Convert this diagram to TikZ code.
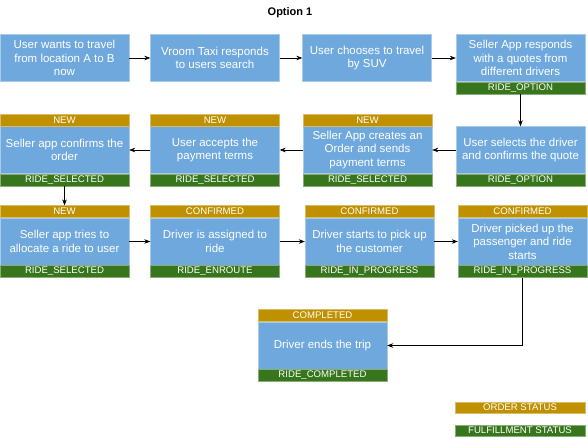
\documentclass[tikz,border=0pt]{standalone}
\usepackage{fontspec}
\setmainfont{Liberation Sans}
\usepackage{tikz}
\usetikzlibrary{arrows.meta}
\usetikzlibrary{positioning}

\definecolor{taskblue}{HTML}{6FA8DC}
\definecolor{ordergold}{HTML}{BF9000}
\definecolor{fulfilgreen}{HTML}{38761D}

\tikzset{
  task/.style={fill=taskblue, draw=taskblue!60!white, line width=0.4pt, text=white,
    minimum width=129pt, minimum height=47pt, inner sep=0pt, align=center,
    font=\fontsize{11.5}{13.5}\selectfont},
  orderbar/.style={fill=ordergold, draw=ordergold!60!white, line width=0.4pt, text=white,
    minimum width=129pt, minimum height=12pt, inner sep=0pt,
    font=\fontsize{9.6}{10}\selectfont},
  fulfilbar/.style={orderbar, fill=fulfilgreen, draw=fulfilgreen!60!white},
  flow/.style={-{Stealth[length=6pt,width=4.5pt]}, line width=0.6pt}
}

\begin{document}
\begin{tikzpicture}[x=1pt, y=-1pt]
  \useasboundingbox (0,0) rectangle (588,437);
  \node[font=\bfseries\fontsize{11}{13}\selectfont] (title) at (290,13) {Option 1};

  % Zeile 1
  \node[task] (r1a) at (64.5,58) {User wants to travel\\from location A to B\\now};
  \node[task] (r1b) at (215,58) {Vroom Taxi responds\\to users search};
  \node[task] (r1c) at (367,58) {User chooses to travel\\by SUV};
  \node[task] (r1d) at (520.5,58) {Seller App responds\\with a quotes from\\different drivers};
  \node[fulfilbar, below=0pt of r1d] (r1dst) {RIDE\_OPTION};

  % Zeile 2
  \node[task] (r2d) at (520.5,150) {User selects the driver\\and confirms the quote};
  \node[fulfilbar, below=0pt of r2d] (r2dst) {RIDE\_OPTION};
  \node[task] (r2c) at (367.5,150) {Seller App creates an\\Order and sends\\payment terms};
  \node[orderbar, above=0pt of r2c] (r2cord) {NEW};
  \node[fulfilbar, below=0pt of r2c] (r2cst) {RIDE\_SELECTED};
  \node[task] (r2b) at (215,150) {User accepts the\\payment terms};
  \node[orderbar, above=0pt of r2b] (r2bord) {NEW};
  \node[fulfilbar, below=0pt of r2b] (r2bst) {RIDE\_SELECTED};
  \node[task] (r2a) at (64.5,150) {Seller app confirms the\\order};
  \node[orderbar, above=0pt of r2a] (r2aord) {NEW};
  \node[fulfilbar, below=0pt of r2a] (r2ast) {RIDE\_SELECTED};

  % Zeile 3
  \node[task] (r3a) at (64.5,241.5) {Seller app tries to\\allocate a ride to user};
  \node[orderbar, above=0pt of r3a] (r3aord) {NEW};
  \node[fulfilbar, below=0pt of r3a] (r3ast) {RIDE\_SELECTED};
  \node[task] (r3b) at (215,241.5) {Driver is assigned to\\ride};
  \node[orderbar, above=0pt of r3b] (r3bord) {CONFIRMED};
  \node[fulfilbar, below=0pt of r3b] (r3bst) {RIDE\_ENROUTE};
  \node[task] (r3c) at (369.5,241.5) {Driver starts to pick up\\the customer};
  \node[orderbar, above=0pt of r3c] (r3cord) {CONFIRMED};
  \node[fulfilbar, below=0pt of r3c] (r3cst) {RIDE\_IN\_PROGRESS};
  \node[task] (r3d) at (522.5,241.5) {Driver picked up the\\passenger and ride\\starts};
  \node[orderbar, above=0pt of r3d] (r3dord) {CONFIRMED};
  \node[fulfilbar, below=0pt of r3d] (r3dst) {RIDE\_IN\_PROGRESS};

  % Zeile 4
  \node[task] (r4) at (322.5,345.5) {Driver ends the trip};
  \node[orderbar, above=0pt of r4] (r4ord) {COMPLETED};
  \node[fulfilbar, below=0pt of r4] (r4st) {RIDE\_COMPLETED};

  % Legende
  \node[orderbar, minimum width=130pt, minimum height=11pt] (legorder) at (520,407.5) {ORDER STATUS};
  \node[fulfilbar, minimum width=130pt, minimum height=11pt] (legfulfil) at (520,430.5) {FULFILLMENT STATUS};

  % Pfeile
  \draw[flow] (r1a) -- (r1b);
  \draw[flow] (r1b) -- (r1c);
  \draw[flow] (r1c) -- (r1d);
  \draw[flow] (r1dst) -- (r2d);
  \draw[flow] (r2d) -- (r2c);
  \draw[flow] (r2c) -- (r2b);
  \draw[flow] (r2b) -- (r2a);
  \draw[flow] (r2ast) -- (r3aord);
  \draw[flow] (r3a) -- (r3b);
  \draw[flow] (r3b) -- (r3c);
  \draw[flow] (r3c) -- (r3d);
  \draw[flow] (r3dst.south) |- (r4.east);
\end{tikzpicture}
\end{document}
